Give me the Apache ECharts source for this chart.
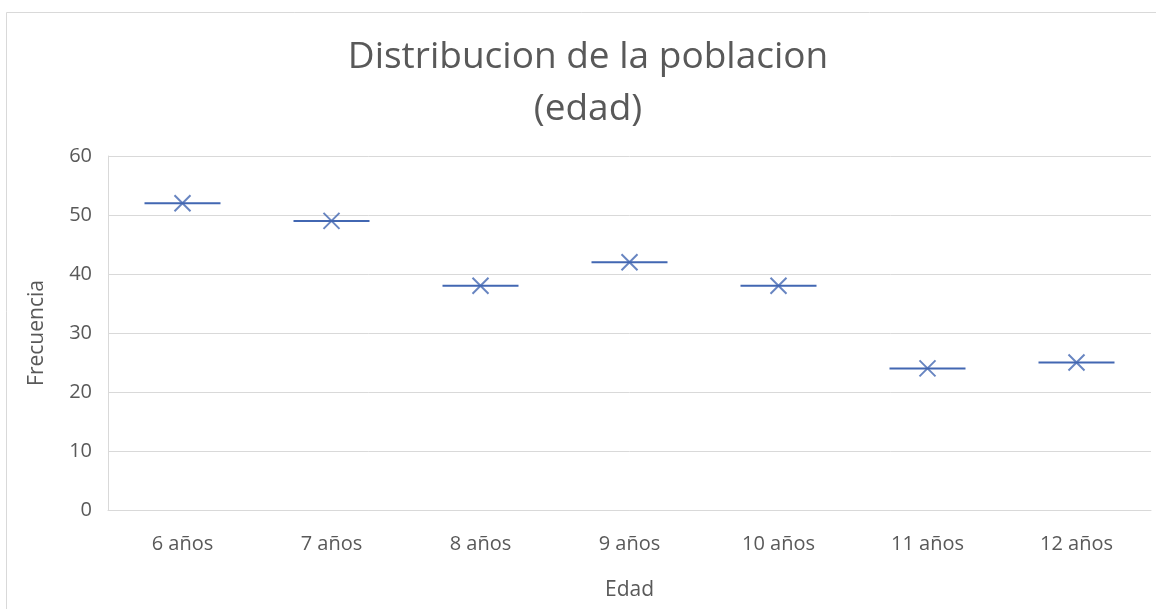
<!DOCTYPE html>
<html>
<head>
<meta charset="utf-8">
<script src="https://cdn.jsdelivr.net/npm/echarts@6/dist/echarts.min.js"></script>
<style>
  html, body { margin: 0; padding: 0; background: #fff; }
  #chart { width: 1156px; height: 609px; }
</style>
</head>
<body>
<div id="chart"></div>
<script>
// Age groups and the frequency observed for each
const categories = ['6 años', '7 años', '8 años', '9 años', '10 años', '11 años', '12 años'];
const frequencies = [52, 49, 38, 42, 38, 24, 25];
const yTicks = [0, 10, 20, 30, 40, 50, 60];

const BLUE = '#4267B2';
const TEXT = '#595959';
const FONT = '"Open Sans", sans-serif';

// Each group has a single value, so the box collapses into one horizontal line
const boxData = frequencies.map(v => [v, v, v, v, v]);
const meanData = frequencies.map((v, i) => [i, v]);

const chart = echarts.init(document.getElementById('chart'));
chart.setOption({
  animation: false,
  backgroundColor: '#fff',
  textStyle: { fontFamily: FONT },
  title: {
    text: 'Distribucion de la poblacion\n(edad)',
    left: 583,
    textAlign: 'center',
    top: 26,
    textStyle: { fontFamily: FONT, fontSize: 37, fontWeight: 'normal', color: TEXT, lineHeight: 52 }
  },
  graphic: [{
    type: 'rect',
    shape: { x: 6.5, y: 12.5, width: 1300, height: 800 },
    style: { fill: 'none', stroke: '#d9d9d9', lineWidth: 1 },
    silent: true
  }],
  grid: { left: 108, right: 5, top: 156, bottom: 99 },
  xAxis: {
    type: 'category',
    data: categories,
    name: 'Edad',
    nameLocation: 'middle',
    nameGap: 70,
    nameTextStyle: { fontFamily: FONT, fontSize: 21, color: TEXT },
    axisLine: { show: true, lineStyle: { color: '#d9d9d9', width: 1 } },
    axisTick: { show: false },
    axisLabel: { fontFamily: FONT, fontSize: 20, color: TEXT, margin: 24 },
    splitLine: { show: false }
  },
  yAxis: {
    type: 'value',
    min: yTicks[0],
    max: yTicks[yTicks.length - 1],
    interval: 10,
    name: 'Frecuencia',
    nameLocation: 'middle',
    nameGap: 60,
    nameRotate: 90,
    nameTextStyle: { fontFamily: FONT, fontSize: 21, color: TEXT },
    axisLine: { show: true, lineStyle: { color: '#d9d9d9', width: 1 } },
    axisTick: { show: false },
    axisLabel: { fontFamily: FONT, fontSize: 20, color: TEXT, margin: 16 },
    splitLine: { show: true, lineStyle: { color: '#d9d9d9', width: 1 } }
  },
  series: [
    {
      type: 'boxplot',
      data: boxData,
      boxWidth: [76, 76],
      itemStyle: { color: 'none', borderColor: BLUE, borderWidth: 2 },
      emphasis: { disabled: true }
    },
    {
      type: 'scatter',
      data: meanData,
      symbol: 'path://M0,0L10,10M10,0L0,10',
      symbolSize: 16,
      itemStyle: { color: 'none', borderColor: BLUE, borderWidth: 2 },
      emphasis: { disabled: true },
      z: 3
    }
  ]
});
</script>
</body>
</html>
